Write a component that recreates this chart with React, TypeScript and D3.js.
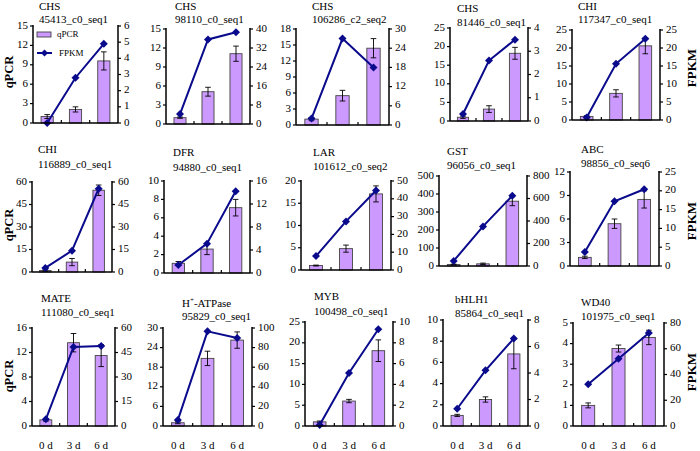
import React from "react";
import * as d3 from "d3";

const categories = ["0 d", "3 d", "6 d"];
const geneNames = ["CHS", "CHS", "CHS", "CHS", "CHI", "CHI", "DFR", "LAR", "GST", "ABC", "MATE", "H+-ATPase", "MYB", "bHLH1", "WD40"];
const geneIds = ["45413_c0_seq1", "98110_c0_seq1", "106286_c2_seq2", "81446_c0_seq1", "117347_c0_seq1", "116889_c0_seq1", "94880_c0_seq1", "101612_c0_seq2", "96056_c0_seq1", "98856_c0_seq6", "111080_c0_seq1", "95829_c0_seq1", "100498_c0_seq1", "85864_c0_seq1", "101975_c0_seq1"];
const qpcrMeans = [
  [1.0, 2.1, 9.6], [1.0, 5.1, 11.1], [1.1, 5.5, 14.4], [1.0, 3.2, 18.2], [1.0, 7.4, 20.6],
  [1.0, 6.6, 54.5], [1.05, 2.6, 7.1], [1.0, 4.8, 17.1], [8, 12, 360], [1.1, 5.4, 8.5],
  [1.0, 13.6, 11.5], [1.0, 20.7, 26.3], [1.0, 6.0, 18.1], [1.0, 2.5, 6.8], [1.0, 3.76, 4.3],
];
const qpcrErrors = [
  [0.3, 0.4, 1.4], [0.1, 0.7, 1.2], [0.3, 1.0, 1.8], [0.3, 0.9, 1.6], [0.2, 1.0, 2.2],
  [0.5, 2.4, 3.5], [0.2, 0.6, 0.9], [0.1, 0.8, 1.8], [2, 4, 25], [0.15, 0.6, 1.1],
  [0.2, 1.5, 1.8], [0.3, 2.2, 2.5], [0.2, 0.4, 2.6], [0.1, 0.25, 1.4], [0.12, 0.17, 0.35],
];
const fpkmValues = [
  [0.0, 2.8, 4.9], [4.2, 35.6, 38.6], [2.0, 27.0, 18.0], [0.3, 2.6, 3.5], [0.7, 15.6, 22.6],
  [2.7, 14.2, 55.5], [1.4, 5.1, 14.2], [7.8, 27.3, 44.7], [45, 352, 625], [3.7, 17.2, 20.4],
  [4.1, 48.4, 49.0], [6.0, 96.6, 89.8], [0.1, 5.1, 9.3], [1.3, 4.2, 6.6], [32.5, 52.2, 72.2],
];
const leftMax = [15, 15, 18, 25, 25, 60, 10, 20, 500, 12, 16, 30, 25, 10, 5];
const leftStep = [3, 3, 3, 5, 5, 15, 2, 5, 100, 3, 4, 6, 5, 2, 1];
const rightMax = [6, 40, 30, 4, 25, 60, 16, 50, 800, 25, 60, 100, 10, 8, 80];
const rightStep = [1, 8, 6, 1, 5, 15, 4, 10, 200, 5, 15, 20, 2, 2, 20];

// layout: [left, right, top, bottom, titleX, titleY1, titleY2]
const layout = [
  [33, 118, 26, 123, 39, 7, 20],
  [166, 250, 29, 124, 175, 7, 20],
  [296, 389, 29, 125, 312, 7, 20],
  [450, 528, 28, 121, 457, 9, 23],
  [572, 660, 30, 120, 578, 7, 20],
  [32, 112, 182, 272, 38, 150, 165],
  [164, 250, 181, 273, 173, 153, 168],
  [301, 391, 181, 270, 313, 153, 167],
  [439, 527, 176, 266, 447, 152, 166],
  [570, 659, 172, 266, 581, 150, 164],
  [32, 115, 328, 426, 41, 299, 313],
  [163, 252, 328, 426, 182, 304, 317],
  [305, 393, 322, 426, 314, 297, 312],
  [443, 528, 320, 426, 455, 300, 314],
  [573, 664, 323, 426, 581, 303, 317],
];

const FONT = "Liberation Serif, Times New Roman, DejaVu Serif, serif";
const BAR = "#CC99FF";
const LINE = "#0A0A8C";

function diamond(cx: number, cy: number, r: number) {
  return `M${cx},${cy - r}L${cx + r},${cy}L${cx},${cy + r}L${cx - r},${cy}Z`;
}

function Title({ name, x, y }: { name: string; x: number; y: number }) {
  if (name.startsWith("H+")) {
    return (
      <text x={x} y={y} fontSize={11} dominantBaseline="middle">
        H<tspan dy={-4} fontSize={7}>+</tspan>
        <tspan dy={4}>-ATPase</tspan>
      </text>
    );
  }
  return (
    <text x={x} y={y} fontSize={11} dominantBaseline="middle">
      {name}
    </text>
  );
}

function Panel({ i }: { i: number }) {
  const [L, R, T, B, tx, ty1, ty2] = layout[i];
  const x = d3.scaleBand<string>().domain(categories).range([L, R]).paddingInner(0).paddingOuter(0);
  const step = x.step();
  const bw = step * 0.43;
  const yL = d3.scaleLinear().domain([0, leftMax[i]]).range([B, T]);
  const yR = d3.scaleLinear().domain([0, rightMax[i]]).range([B, T]);
  const lTicks = d3.range(0, leftMax[i] + leftStep[i] / 2, leftStep[i]);
  const rTicks = d3.range(0, rightMax[i] + rightStep[i] / 2, rightStep[i]);
  const line = d3
    .line<number>()
    .x((_, k) => (x(categories[k]) as number) + step / 2)
    .y((v) => yR(v));
  const showX = i >= 10;
  return (
    <g>
      <Title name={geneNames[i]} x={tx} y={ty1} />
      <text x={tx} y={ty2} fontSize={11} dominantBaseline="middle">
        {geneIds[i]}
      </text>
      {qpcrMeans[i].map((v, k) => {
        const cx = (x(categories[k]) as number) + step / 2;
        return (
          <rect key={k} x={cx - bw / 2} y={yL(v)} width={bw} height={B - yL(v)} fill={BAR} stroke="#444" strokeWidth={0.9} />
        );
      })}
      {qpcrMeans[i].map((v, k) => {
        const cx = (x(categories[k]) as number) + step / 2;
        const e = qpcrErrors[i][k];
        const y1 = yL(v + e);
        const y2 = yL(Math.max(0, v - e));
        return (
          <g key={"e" + k} stroke="#000" strokeWidth={0.9}>
            <line x1={cx} x2={cx} y1={y1} y2={y2} />
            <line x1={cx - 2.8} x2={cx + 2.8} y1={y1} y2={y1} />
            <line x1={cx - 2.8} x2={cx + 2.8} y1={y2} y2={y2} />
          </g>
        );
      })}
      <path d={line(fpkmValues[i]) || ""} fill="none" stroke={LINE} strokeWidth={2} />
      {fpkmValues[i].map((v, k) => (
        <path key={"d" + k} d={diamond((x(categories[k]) as number) + step / 2, yR(v), 4)} fill={LINE} />
      ))}
      <line x1={L} x2={L} y1={T - 1} y2={B} stroke="#000" strokeWidth={1.5} />
      <line x1={R} x2={R} y1={T - 1} y2={B} stroke="#000" strokeWidth={1.5} />
      <line x1={L} x2={R} y1={B} y2={B} stroke="#000" strokeWidth={1.5} />
      {categories.slice(1).map((c) => (
        <line key={c} x1={x(c) as number} x2={x(c) as number} y1={B} y2={B - 3} stroke="#000" strokeWidth={1.2} />
      ))}
      {lTicks.map((t) => (
        <g key={"l" + t}>
          <line x1={L - 3} x2={L} y1={yL(t)} y2={yL(t)} stroke="#000" strokeWidth={1.2} />
          <text x={L - 5} y={yL(t)} fontSize={11} textAnchor="end" dominantBaseline="middle">
            {t}
          </text>
        </g>
      ))}
      {rTicks.map((t) => (
        <g key={"r" + t}>
          <line x1={R} x2={R + 3} y1={yR(t)} y2={yR(t)} stroke="#000" strokeWidth={1.2} />
          <text x={R + 6} y={yR(t)} fontSize={11} textAnchor="start" dominantBaseline="middle">
            {t}
          </text>
        </g>
      ))}
      {showX &&
        categories.map((c) => (
          <text key={"x" + c} x={(x(c) as number) + step / 2} y={446} fontSize={11} textAnchor="middle" dominantBaseline="middle">
            {c}
          </text>
        ))}
    </g>
  );
}

function Legend() {
  return (
    <g fontSize={9}>
      <rect x={37} y={32} width={14} height={5} fill={BAR} stroke="#444" strokeWidth={0.9} />
      <text x={57} y={35} dominantBaseline="middle">qPCR</text>
      <line x1={37} x2={52} y1={53} y2={53} stroke={LINE} strokeWidth={2} />
      <path d={diamond(44.5, 53, 3.5)} fill={LINE} />
      <text x={59} y={54} dominantBaseline="middle">FPKM</text>
    </g>
  );
}

const rowCenters = [72, 225, 376];

export default function App() {
  return (
    <svg width={700} height={451} style={{ position: "absolute", left: 0, top: 0, background: "#fff", fontFamily: FONT }}>
      <rect width={700} height={451} fill="#fff" />
      {geneNames.map((_, i) => (
        <Panel key={i} i={i} />
      ))}
      <Legend />
      {rowCenters.map((cy, r) => (
        <g key={r} fontWeight="bold">
          <text transform={`translate(10,${cy}) rotate(-90)`} fontSize={12.5} textAnchor="middle" dominantBaseline="middle">
            qPCR
          </text>
          <text transform={`translate(693,${cy - 4}) rotate(-90)`} fontSize={13} textAnchor="middle" dominantBaseline="middle">
            FPKM
          </text>
        </g>
      ))}
    </svg>
  );
}
